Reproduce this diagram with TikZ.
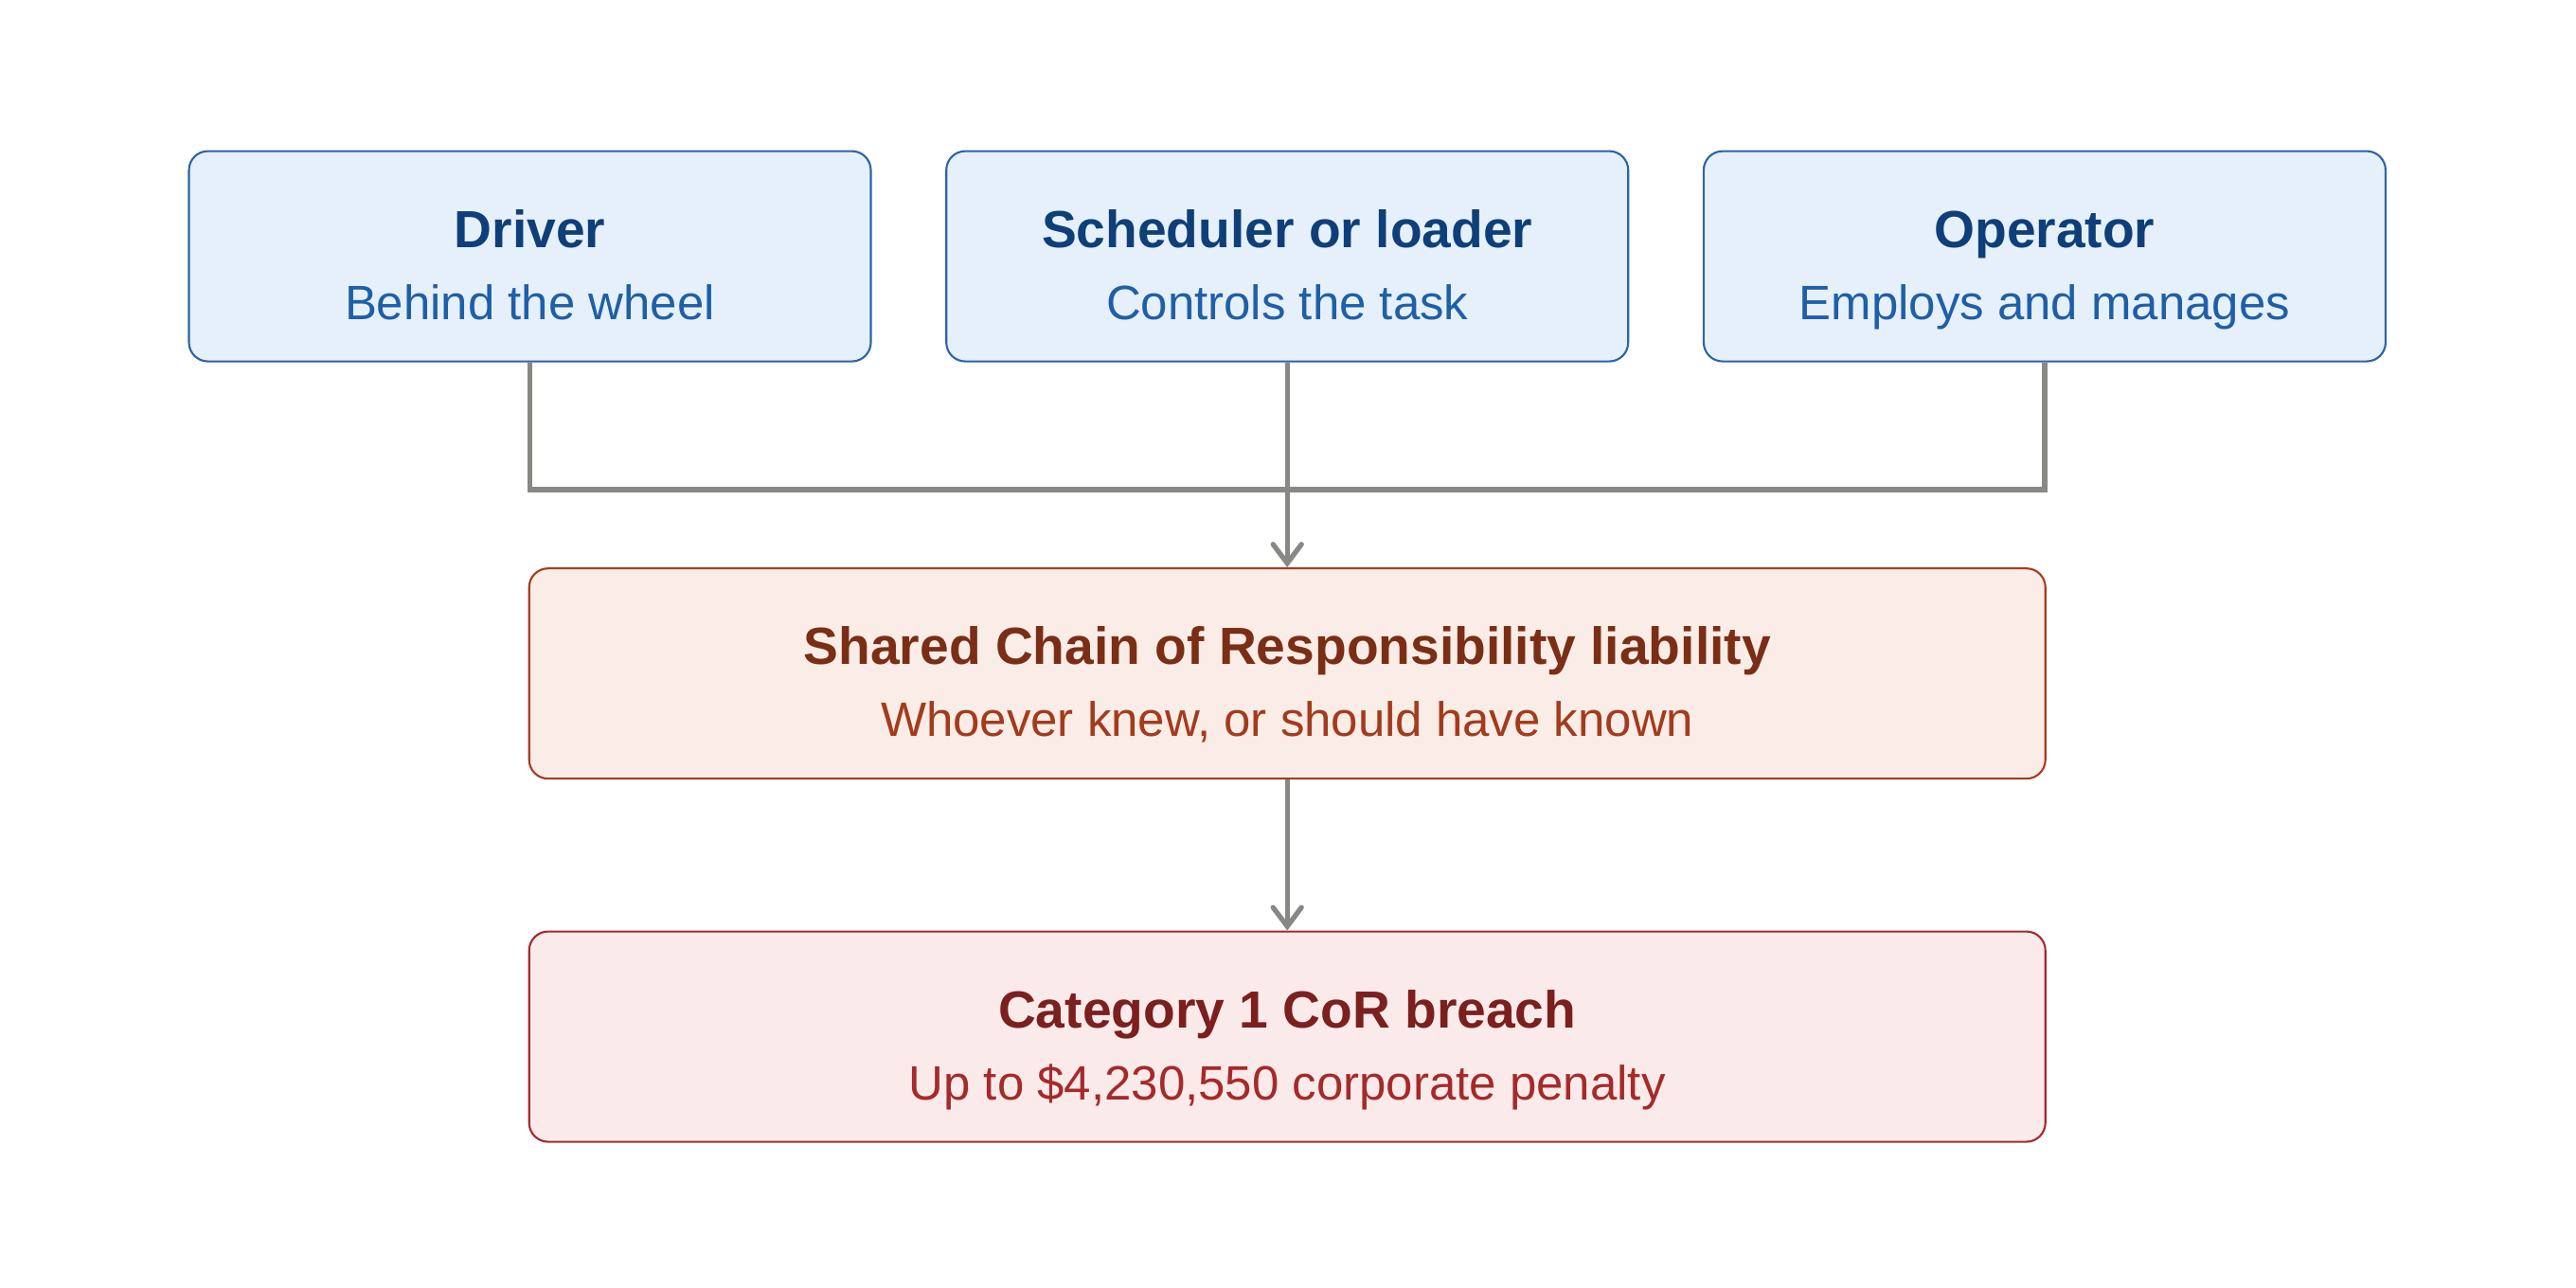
\documentclass[tikz,border=0pt]{standalone}
\usepackage{fontspec}
\setmainfont{Liberation Sans}
\usetikzlibrary{arrows.meta}
\definecolor{roleFill}{HTML}{E6F0FA}
\definecolor{roleLine}{HTML}{2A64A8}
\definecolor{roleHead}{HTML}{0E3F78}
\definecolor{roleSub}{HTML}{1E5FA8}
\definecolor{liabFill}{HTML}{FAECE6}
\definecolor{liabLine}{HTML}{A53C1E}
\definecolor{liabHead}{HTML}{7A2E15}
\definecolor{liabSub}{HTML}{A33B1C}
\definecolor{fineFill}{HTML}{FBEAEA}
\definecolor{fineLine}{HTML}{A52A2A}
\definecolor{fineHead}{HTML}{7B1F1F}
\definecolor{fineSub}{HTML}{A52A2A}
\definecolor{linkGray}{HTML}{888884}
\newcommand{\hd}[1]{{\fontsize{15.7pt}{21.7pt}\selectfont\bfseries #1}}
\tikzset{
  card/.style={draw, line width=0.6pt, rounded corners=0.2cm, align=center,
    minimum height=2.22cm, text height=1.5cm, text depth=0.166cm,
    font=\fontsize{14.5pt}{21.7pt}\selectfont},
  role/.style={card, fill=roleFill, draw=roleLine, text=roleSub, minimum width=7.2cm},
  liab/.style={card, fill=liabFill, draw=liabLine, text=liabSub, minimum width=16.01cm},
  fine/.style={card, fill=fineFill, draw=fineLine, text=fineSub, minimum width=16.01cm},
  link/.style={draw=linkGray, line width=1.5pt},
  flow/.style={link, -{Straight Barb[length=0.2cm, width=0.3cm, line cap=round]}}
}
\begin{document}
\begin{tikzpicture}
  \useasboundingbox (0,0) rectangle (27.2,13.6);
  \node[role] (drv) at (5.595,10.894) {\textcolor{roleHead}{\hd{Driver}}\\Behind the wheel};
  \node[role] (sch) at (13.592,10.894) {\textcolor{roleHead}{\hd{Scheduler or loader}}\\Controls the task};
  \node[role] (opr) at (21.589,10.894) {\textcolor{roleHead}{\hd{Operator}}\\Employs and manages};
  \node[liab] (cor) at (13.592,6.488) {\textcolor{liabHead}{\hd{Shared Chain of Responsibility liability}}\\Whoever knew, or should have known};
  \node[fine] (cat) at (13.592,2.654) {\textcolor{fineHead}{\hd{Category 1 CoR breach}}\\Up to \$4,230,550 corporate penalty};
  \coordinate (bus) at (13.592,8.43);
  \draw[link] (drv.south) |- (bus) -| (opr.south);
  \draw[flow] (sch.south) -- (cor.north);
  \draw[flow] (cor.south) -- (cat.north);
\end{tikzpicture}
\end{document}
